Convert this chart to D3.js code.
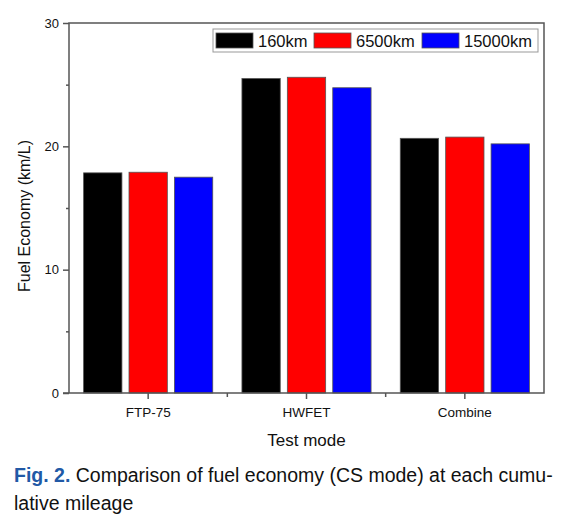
<!DOCTYPE html>
<html><head><meta charset="utf-8">
<script src="https://cdn.jsdelivr.net/npm/d3@7"></script>
<style>body{margin:0;background:#fff}svg{display:block;font-family:Arial,"Liberation Sans",sans-serif}</style>
</head><body><svg id="c" width="574" height="523"></svg>
<script>
const categories = ["FTP-75", "HWFET", "Combine"];
const seriesNames = ["160km", "6500km", "15000km"];
const seriesColors = ["#000000", "#ff0000", "#0000ff"];
const values160 = [17.85, 25.5, 20.65];
const values6500 = [17.9, 25.6, 20.75];
const values15000 = [17.5, 24.75, 20.2];
const yTicks = [0, 10, 20, 30];
const yMinorTicks = [5, 15, 25];
const seriesValues = [values160, values6500, values15000];

const FONT = "Arial, Liberation Sans, sans-serif";
const svg = d3.select("#c");
const L = 69, R = 544, T = 23, B = 393;
const y = d3.scaleLinear().domain([0, 30]).range([B, T]);
const x0 = d3.scaleBand().domain(categories).range([L, R]).padding(0);
const x1 = d3.scaleBand().domain(seriesNames).range([14.6, x0.bandwidth() - 14.6]).paddingInner(0.156).paddingOuter(0);
const axisColor = "#555";

// bars
categories.forEach((c, ci) => {
  seriesNames.forEach((s, si) => {
    const v = seriesValues[si][ci];
    svg.append("rect")
      .attr("x", x0(c) + x1(s)).attr("y", y(v))
      .attr("width", x1.bandwidth()).attr("height", y(0) - y(v))
      .attr("fill", seriesColors[si]).attr("stroke", "#555").attr("stroke-width", 0.8);
  });
});

// frame
svg.append("rect").attr("x", L).attr("y", T).attr("width", R - L).attr("height", B - T)
  .attr("fill", "none").attr("stroke", axisColor).attr("stroke-width", 1.5);

// y axis
const yAxis = d3.axisLeft(y).tickValues(yTicks).tickSize(6).tickFormat(d3.format("d"));
const gy = svg.append("g").attr("transform", `translate(${L},0)`).call(yAxis);
gy.select(".domain").remove();
gy.selectAll("line").attr("stroke", axisColor).attr("stroke-width", 1.5);
gy.selectAll("text").attr("font-size", 13).attr("fill", "#111").attr("x", -10).attr("font-family", FONT);
const gym = svg.append("g").attr("transform", `translate(${L},0)`).call(d3.axisLeft(y).tickValues(yMinorTicks).tickSize(3).tickFormat(""));
gym.select(".domain").remove();
gym.selectAll("line").attr("stroke", axisColor).attr("stroke-width", 1.5);

// x axis
const xAxis = d3.axisBottom(x0).tickSize(6).tickPadding(8);
const gx = svg.append("g").attr("transform", `translate(0,${B})`).call(xAxis);
gx.select(".domain").remove();
gx.selectAll("line").attr("stroke", axisColor).attr("stroke-width", 1.5);
gx.selectAll("text").attr("font-size", 13.5).attr("fill", "#111").attr("font-family", FONT);
const bounds = categories.slice(1).map(c => x0(c));
svg.append("g").selectAll("line").data(bounds).join("line")
  .attr("x1", d => d).attr("x2", d => d).attr("y1", B).attr("y2", B + 4)
  .attr("stroke", axisColor).attr("stroke-width", 1.5);
svg.append("line").attr("x1", L - 6).attr("x2", L).attr("y1", B).attr("y2", B).attr("stroke", axisColor).attr("stroke-width", 1.5);

// axis titles
svg.append("text").attr("x", (L + R) / 2).attr("y", 446).attr("text-anchor", "middle")
  .attr("font-size", 17).attr("fill", "#111").text("Test mode");
svg.append("text").attr("transform", `translate(30,${(T + B) / 2 + 8}) rotate(-90)`).attr("text-anchor", "middle")
  .attr("font-size", 16).attr("fill", "#111").text("Fuel Economy (km/L)");

// legend
const lg = svg.append("g");
lg.append("rect").attr("x", 213).attr("y", 29).attr("width", 325).attr("height", 23)
  .attr("fill", "#fff").attr("stroke", "#999").attr("stroke-width", 1);
const legendX = [216, 314, 422];
seriesNames.forEach((s, i) => {
  lg.append("rect").attr("x", legendX[i]).attr("y", 33).attr("width", 37).attr("height", 15)
    .attr("fill", seriesColors[i]).attr("stroke", "#555").attr("stroke-width", 0.8);
  lg.append("text").attr("x", legendX[i] + 42).attr("y", 46.5).attr("font-size", 16.5).attr("fill", "#111").text(s);
});

// caption
const cap = svg.append("text").attr("x", 14).attr("y", 482).attr("font-size", 19.5).attr("fill", "#111");
cap.append("tspan").attr("font-weight", "bold").attr("fill", "#2159a6").text("Fig. 2.");
cap.append("tspan").text(" Comparison of fuel economy (CS mode) at each cumu-");
svg.append("text").attr("x", 14).attr("y", 510).attr("font-size", 19.5).attr("fill", "#111").text("lative mileage");
</script></body></html>
